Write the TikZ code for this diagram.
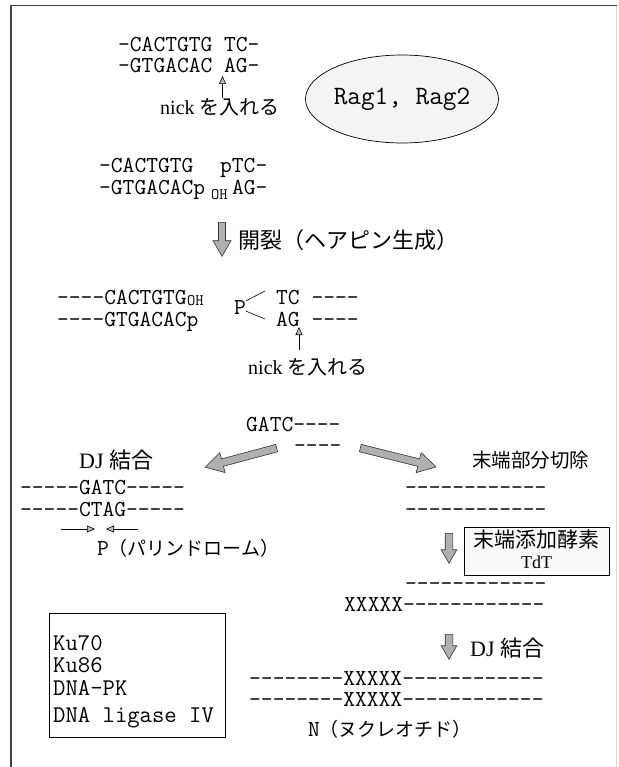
\documentclass[tikz,border=0pt]{standalone}
\usepackage{fontspec}
\setmainfont{Liberation Serif}
\newfontfamily\jp{Noto Sans CJK JP}
\usetikzlibrary{shapes.geometric,shapes.arrows,arrows.meta}
\tikzset{
  dna/.style={font=\ttfamily\fontsize{22.86}{26}\selectfont, inner sep=0pt, anchor=base west},
  sub/.style={font=\ttfamily\fontsize{16}{18}\selectfont, inner sep=0pt, anchor=base west},
  lab/.style={font=\fontsize{20}{24}\selectfont, inner sep=0pt, anchor=base west},
  jplab/.style={font=\jp\fontsize{22}{26}\selectfont, inner sep=0pt, anchor=west},
  thinarrow/.style={line width=0.6pt, -{Triangle[length=8pt,width=7pt,fill=gray!50]}},
  fatarrow/.style={single arrow, draw=black!80, fill=gray!62, line width=0.6pt, inner xsep=0pt,
     single arrow tip angle=60, single arrow head indent=0pt, anchor=tail},
  box/.style={draw, line width=0.7pt, inner sep=0pt}
}
\begin{document}
\begin{tikzpicture}[x=1pt,y=-1pt]
\useasboundingbox (0,0) rectangle (618,767);
% frame
\draw[gray!30, line width=0.8pt] (616.5,5.5) -- (616.5,767);
\draw[black!75, line width=1.2pt] (617,5.5) -- (11,5.5) -- (11,767);

% top DNA
\node[dna] (l1) at (118,52) {-CACTGTG TC-};
\node[dna] (l2) at (118,73) {-GTGACAC AG-};
\coordinate (a1s) at (222.5,98);
\coordinate (a1e) at (222.5,76);
\draw[thinarrow] (a1s) -- (a1e);
\node[lab] (nick1) at (160,115) {nick {\jp を入れる}};

\node[ellipse, draw, line width=0.7pt, fill=gray!9, minimum width=152pt, minimum height=88pt, inner sep=0pt,
      font=\ttfamily\fontsize{26.5}{30}\selectfont] (rag) at (402,99) {Rag1, Rag2};

% nicked
\node[dna] (l3a) at (99,173) {-CACTGTG};
\node[dna] (l3b) at (220,173) {pTC-};
\node[dna] (l4a) at (99,195) {-GTGACACp};
\node[sub] (l4oh) at (211,200) {OH};
\node[dna] (l4b) at (232,195) {AG-};

% cleavage arrow
\node[fatarrow, minimum height=34pt, inner ysep=3.2pt, single arrow head extend=5.5pt, rotate=-90] (big) at (222,222) {};
\node[jplab] (cleave) at (238,240) {開裂（ヘアピン生成）};

% hairpin
\node[dna] (h1) at (57,304) {----CACTGTG};
\node[sub] (h1oh) at (h1.base east) [anchor=base west, yshift=-1.5pt] {OH};
\node[dna] (h2) at (57,326) {----GTGACACp};
\node[font=\ttfamily\fontsize{22.86}{26}\selectfont, inner sep=0pt] (P) at (240,308) {P};
\node[dna] (tc) at (276,304) {TC ----};
\node[dna] (ag) at (276,326) {AG ----};
\coordinate (tcl) at (265,291);
\coordinate (agl) at (265,319);
\draw[line width=0.6pt] (P.north east) -- (tcl);
\draw[line width=0.6pt] ([yshift=4pt]P.south east) -- (agl);
\coordinate (a2s) at (299,350);
\coordinate (a2e) at (299,327);
\draw[thinarrow] (a2s) -- (a2e);
\node[lab] (nick2) at (248,374) {nick {\jp を入れる}};

% branch
\node[dna] (g1) at (246,431) {GATC----};
\node[dna] (g2) at (294,452) {----};
\node[fatarrow, minimum height=74pt, inner ysep=3.5pt, single arrow head extend=6.5pt, rotate=195] (la) at (277,448) {};
\node[fatarrow, minimum height=78pt, inner ysep=3.5pt, single arrow head extend=6.5pt, rotate=-14] (ra) at (360,448) {};
\node[lab, font=\fontsize{22}{26}\selectfont] (dj1) at (79,468) {DJ {\jp 結合}};
\node[jplab, font=\jp\fontsize{19.5}{24}\selectfont] (trim) at (472,460) {末端部分切除};

% left branch
\node[dna] (p1) at (20,494) {-----GATC-----};
\node[dna] (p2) at (20,516) {-----CTAG-----};
\coordinate (sa1s) at (61,529);
\coordinate (sa1e) at (95,529);
\coordinate (sa2s) at (138,529);
\coordinate (sa2e) at (106,529);
\draw[thinarrow] (sa1s) -- (sa1e);
\draw[thinarrow] (sa2s) -- (sa2e);
\node[inner sep=0pt, anchor=west] (pal) at (97,548) {{\ttfamily\fontsize{22.86}{26}\selectfont P}{\jp\fontsize{19}{23}\selectfont （パリンドローム）}};

% right branch
\node[dna] (r1) at (405,494) {------------};
\node[dna] (r2) at (405,516) {------------};
\node[fatarrow, minimum height=30pt, inner ysep=3.5pt, single arrow head extend=4pt, rotate=-90] (da1) at (449,533) {};
\node[box, fill=gray!4, minimum width=145pt, minimum height=48pt] (tdt) at (536.5,551) {};
\node[font=\jp\fontsize{21}{25}\selectfont, inner sep=0pt] (tdt1) at (536.5,540) {末端添加酵素};
\node[font=\fontsize{18}{21}\selectfont, inner sep=0pt] (tdt2) at (536.5,562) {TdT};
\node[dna] (r3) at (405,590) {------------};
\node[dna] (r4) at (344,611) {XXXXX------------};
\node[fatarrow, minimum height=25pt, inner ysep=3.5pt, single arrow head extend=4pt, rotate=-90] (da2) at (449,634) {};
\node[lab, font=\fontsize{22}{26}\selectfont] (dj2) at (470,656) {DJ {\jp 結合}};
\node[dna] (f1) at (249,685) {--------XXXXX------------};
\node[dna] (f2) at (249,706) {--------XXXXX------------};
\node[inner sep=0pt, anchor=west] (nuc) at (308,729) {{\ttfamily\fontsize{22.86}{26}\selectfont N}{\jp\fontsize{19}{23}\selectfont （ヌクレオチド）}};

% Ku box
\node[box, minimum width=176pt, minimum height=124pt] (ku) at (137,675) {};
\node[dna, font=\ttfamily\fontsize{24}{28}\selectfont] (k1) at (53,650) {Ku70};
\node[dna, font=\ttfamily\fontsize{24}{28}\selectfont] (k2) at (53,672) {Ku86};
\node[dna, font=\ttfamily\fontsize{24}{28}\selectfont] (k3) at (53,695) {DNA-PK};
\node[dna, font=\ttfamily\fontsize{24}{28}\selectfont] (k4) at (53,722) {DNA ligase IV};
\end{tikzpicture}
\end{document}
